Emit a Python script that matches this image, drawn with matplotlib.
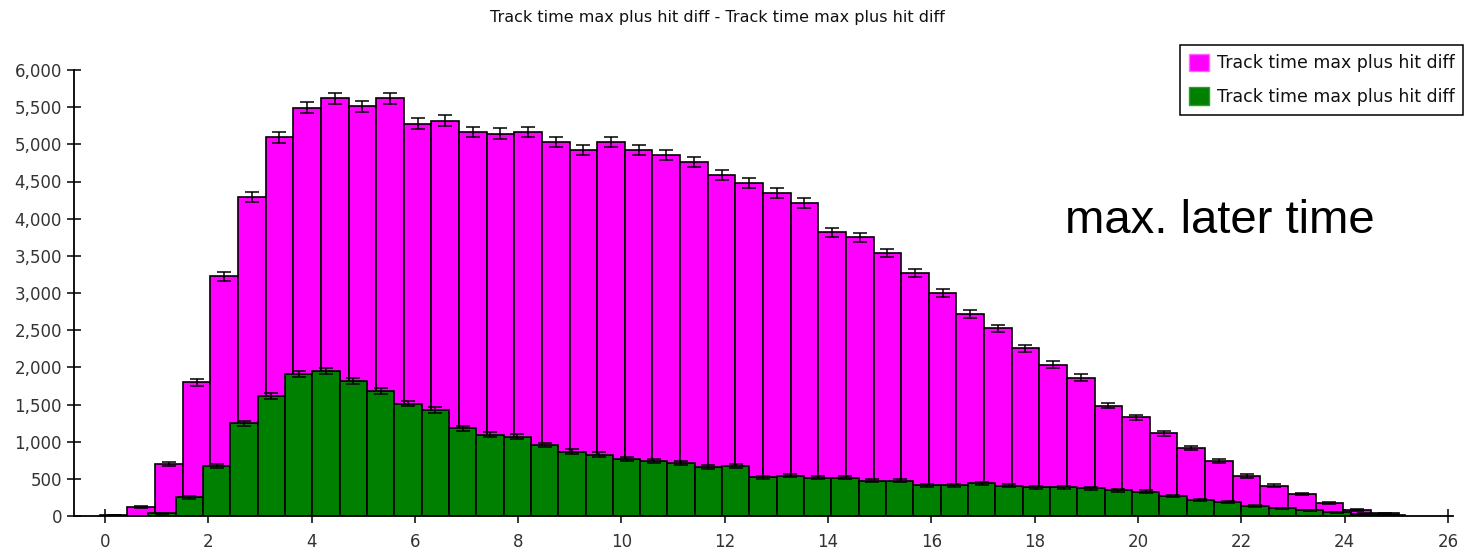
import matplotlib
matplotlib.use("Agg")
import matplotlib.pyplot as plt
from matplotlib.patches import Patch
from matplotlib.ticker import FuncFormatter
import numpy as np

# histogram 1 (magenta): 47 bins, counts
mag_start = -0.10
mag_width = 0.535
mag_counts = [13, 125, 700, 1796, 3224, 4288, 5096, 5491, 5621, 5514,
              5621, 5276, 5316, 5168, 5142, 5168, 5034, 4921, 5034, 4921,
              4854, 4764, 4589, 4481, 4347, 4212, 3816, 3749, 3538, 3269,
              3004, 2717, 2523, 2259, 2038, 1863, 1486, 1329, 1114, 916,
              737, 539, 408, 296, 176, 83, 35]

# histogram 2 (green): 46 bins
grn_start = 0.84
grn_width = 0.529
grn_counts = [36, 251, 674, 1248, 1616, 1908, 1949, 1818, 1684, 1513,
              1423, 1181, 1091, 1069, 956, 866, 826, 763, 736, 714,
              656, 674, 521, 543, 516, 516, 476, 476, 413, 413,
              440, 404, 388, 388, 373, 348, 326, 269, 216, 189,
              135, 103, 74, 52, 30, 12]

label = "Track time max plus hit diff"
title = "Track time max plus hit diff - Track time max plus hit diff"

mag_counts = np.array(mag_counts)
grn_counts = np.array(grn_counts)
mag_left = mag_start + mag_width * np.arange(len(mag_counts))
grn_left = grn_start + grn_width * np.arange(len(grn_counts))

fig = plt.figure(figsize=(14.66, 5.53), dpi=100)
ax = fig.add_axes([73.5 / 1466, 1 - 516 / 553, (1453 - 73.5) / 1466, (516 - 70) / 553])

ax.bar(mag_left, mag_counts, width=mag_width, align="edge", color="#ff00ff",
       edgecolor="black", linewidth=1.2, zorder=2)
ax.errorbar(mag_left + mag_width / 2, mag_counts, yerr=np.sqrt(mag_counts),
            fmt="none", ecolor="black", elinewidth=1.1, capsize=4.7, capthick=1.1, zorder=3)
ax.bar(grn_left, grn_counts, width=grn_width, align="edge", color="#008000",
       edgecolor="black", linewidth=1.2, zorder=4)
ax.errorbar(grn_left + grn_width / 2, grn_counts, yerr=np.sqrt(grn_counts),
            fmt="none", ecolor="black", elinewidth=1.1, capsize=4.7, capthick=1.1, zorder=5)

ax.set_xlim(-0.61, 26.10)
ax.set_ylim(0, 6000)
ax.set_xticks(np.arange(0, 27, 2))
ax.set_yticks(np.arange(0, 6001, 500))
ax.yaxis.set_major_formatter(FuncFormatter(lambda v, p: f"{int(v):,}"))

for s in ["top", "right"]:
    ax.spines[s].set_visible(False)
for s in ["left", "bottom"]:
    ax.spines[s].set_linewidth(1.3)
    ax.spines[s].set_zorder(6)
ax.tick_params(axis="both", direction="inout", length=10, width=1.1,
               labelsize=12, labelcolor="#333333")
ax.tick_params(axis="y", pad=3.3)
ax.tick_params(axis="x", pad=7.5)

fig.text(717 / 1466, 1 - 21.7 / 553, title, ha="center", va="baseline",
         fontsize=11.5, color="#111111")

fig.text(1065 / 1466, 1 - 233.3 / 553, "max. later time", ha="left", va="baseline",
         fontsize=34, family="Liberation Sans")

handles = [Patch(facecolor="#ff00ff", edgecolor="#ff66ff"),
           Patch(facecolor="#008000", edgecolor="#339933")]
leg = fig.legend(handles, [label, label], loc="upper right",
                 bbox_to_anchor=(1463.3 / 1466, 1 - 45 / 553), borderaxespad=0,
                 fontsize=12.5, handlelength=1.15, handleheight=1.2,
                 handletextpad=0.48, labelspacing=0.85, borderpad=0.5,
                 fancybox=False, framealpha=1)
leg.get_frame().set_edgecolor("black")
leg.get_frame().set_linewidth(1.1)
for t in leg.get_texts():
    t.set_color("#111111")

fig.savefig("out.png", dpi=100)
